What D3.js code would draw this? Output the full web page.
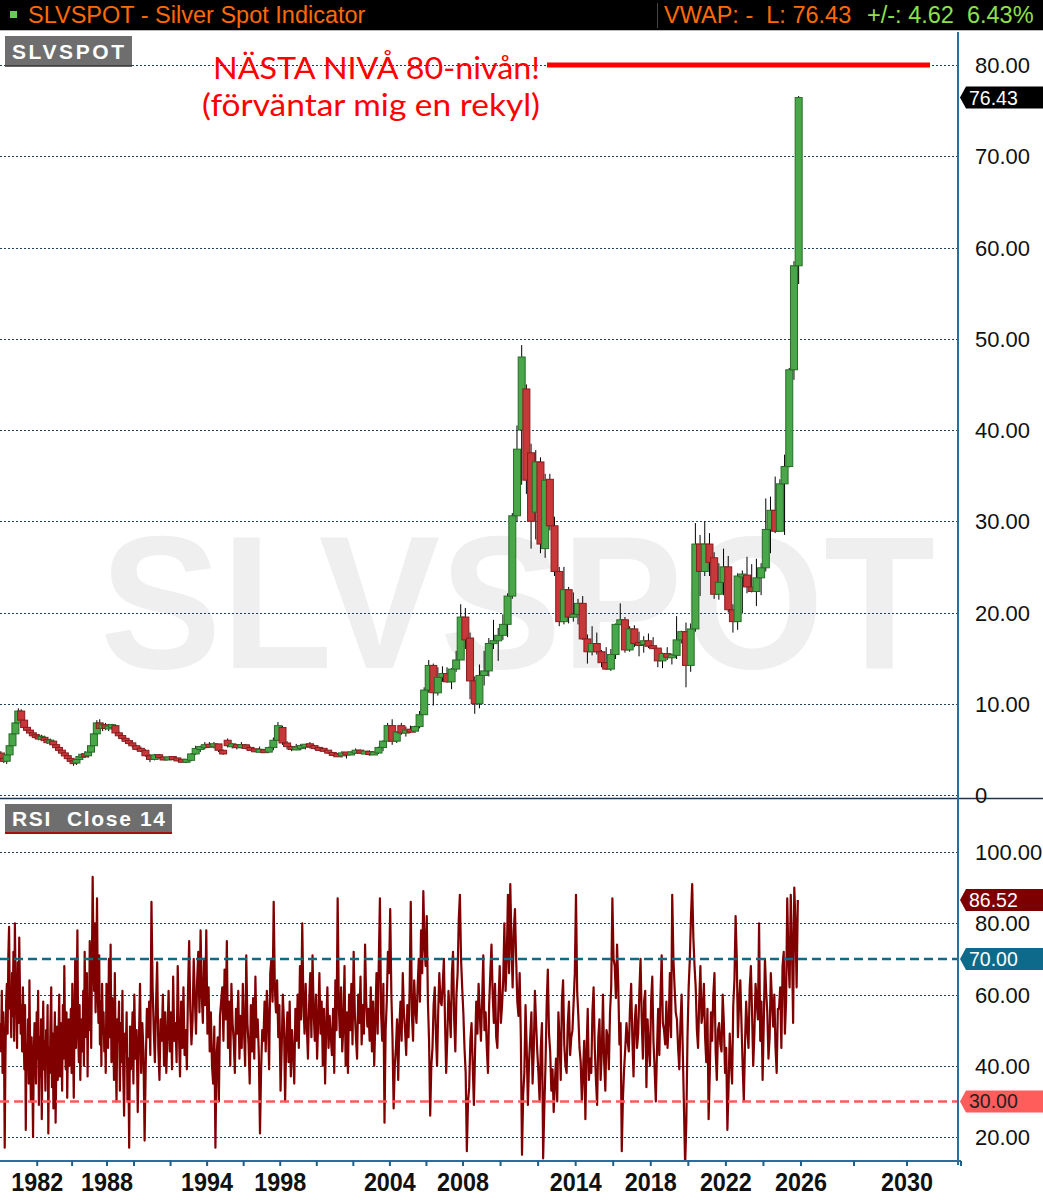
<!DOCTYPE html>
<html><head><meta charset="utf-8">
<script src="https://cdn.jsdelivr.net/npm/d3@7"></script>
<style>
body{margin:0;background:#fff}
svg{display:block}
text{font-family:"Liberation Sans",Arial,sans-serif}
</style>
</head><body>
<svg id="c" width="1043" height="1200"></svg>
<script>
// ---------- DATA (quarterly candles, decimal-year centres from priceStart, step 0.25) ----------
const priceStart = 1978.875;
const open = [4.6,4.0,3.7,4.4,5.4,6.7,7.9,9.2,8.2,7.4, 7.1,6.8,6.5,6.4,6.2,6.3,6.0,5.8,5.9,5.5,
 5.2,4.9,4.6,4.3,4.0,3.7,3.5,3.9,4.2,4.4, 4.3,4.7,5.4,6.7,7.9,7.3,7.7, 7.3,7.5,7.6,6.8,6.5,6.2,5.9,5.7,
 5.4,5.0,4.9,4.3,3.9,4.4,4.1,3.9,4.1,4.0, 3.8,3.7,3.8,4.5,5.1,5.2,5.5,5.3,5.6,4.9,
 6.0,5.4,5.5,5.2,5.5,5.1,5.0,4.8,4.9,4.7, 5.2,6.0,7.4,5.7,5.3,5.0,5.2,5.3,5.5,5.4,
 5.1,5.0,4.9,4.6,4.4,4.3,4.6,4.5,4.6,4.9, 4.6,4.7,4.5,4.6,5.2,5.9,7.6,5.9,7.6,6.8,
 7.1,7.0,7.5,8.8,11.5,14.2,11.2,12.9,13.3,12.4, 13.8,14.8,19.5,17.2,12.5,10.0,13.1,13.6,16.6,16.9,
 17.5,18.7,21.8,30.6,40.0,44.5,37.5,31.0,36.5,27.0, 34.6,29.5,24.5,19.0,22.5,19.5,19.8,21.0,17.1,15.7,
 16.6,15.7,14.5,13.8,15.4,18.7,19.2,15.9,18.2,16.6, 16.5,16.9,16.3,16.1,14.7,15.5,15.1,15.3,17.0,17.9,
 14.2,18.2,27.5,24.5,27.5,26.0,22.0,23.3,25.0,20.3, 19.0,24.0,24.1,22.8,22.3,23.8,24.9,29.1,31.2,28.9,
 34.1,36.0,46.6,58.0];
const high = [4.8,4.3,4.6,5.6,6.9,8.1,9.5,9.4,8.4,7.8, 7.4,7.0,6.8,6.7,6.6,6.5,6.3,6.2,6.0,5.7,
 5.4,5.2,4.8,4.5,4.2,3.9,4.1,4.4,4.6,4.8, 4.9,5.6,6.9,8.2,8.3,7.9,7.9, 7.8,7.8,7.7,7.0,6.7,6.4,6.1,5.9,
 5.5,5.3,5.0,4.5,4.5,4.5,4.2,4.2,4.2,4.0, 3.9,3.9,4.6,5.4,5.4,5.8,5.8,5.8,5.6,5.0,
 6.2,5.7,5.6,5.8,5.6,5.3,5.0,5.3,5.0,5.3, 6.3,8.0,7.6,5.9,5.4,5.6,5.6,5.6,5.8,5.5,
 5.3,5.1,4.9,4.7,4.6,4.8,4.7,4.8,5.1,5.0, 4.8,4.9,4.8,5.3,6.0,7.9,8.3,7.0,7.9,7.5,
 7.6,7.6,9.2,11.8,14.8,14.4,14.0,14.1,14.0,13.9, 15.8,20.9,20.5,17.8,13.0,14.3,15.8,17.2,19.2,18.3,
 19.8,22.1,30.9,40.5,49.3,45.0,38.5,37.8,37.0,35.2, 35.2,30.5,25.0,25.0,22.8,22.2,21.5,21.8,17.6,18.5,
 17.8,15.9,16.2,16.0,18.8,21.0,19.5,18.5,18.6,17.9, 17.4,17.7,17.3,16.1,15.6,16.2,15.5,19.6,18.0,18.9,
 18.8,29.8,28.5,30.0,28.7,26.6,25.4,27.0,26.2,20.9, 24.3,24.6,26.1,25.3,25.9,25.4,32.5,32.7,34.9,34.6,
 37.3,46.8,58.5,76.6];
const low = [3.9,3.5,3.4,4.2,5.2,6.5,7.7,8.0,7.2,6.9, 6.6,6.3,6.2,6.0,5.9,5.8,5.6,5.5,5.3,5.0,
 4.7,4.5,4.1,3.8,3.5,3.2,3.3,3.7,3.9,4.1, 4.1,4.5,5.2,6.5,7.0,7.0,7.1, 7.0,7.2,6.6,6.3,6.0,5.7,5.5,5.2,
 4.9,4.7,4.2,3.6,3.8,3.9,3.8,3.9,3.9,3.7, 3.6,3.5,3.7,4.4,4.7,5.0,5.2,5.1,4.7,4.4,
 5.2,5.1,5.0,5.1,5.0,4.9,4.7,4.7,4.6,4.6, 4.9,5.9,5.5,5.0,4.8,4.9,4.9,5.0,5.1,5.0,
 4.9,4.8,4.5,4.3,4.2,4.1,4.0,4.4,4.5,4.5, 4.5,4.3,4.4,4.5,4.8,5.9,5.5,5.7,6.6,6.4,
 6.8,6.8,7.3,8.8,11.2,9.8,10.9,12.4,12.3,11.6, 13.5,14.8,16.0,10.5,8.9,9.5,12.0,13.0,16.0,14.7,
 17.0,17.3,21.5,30.0,34.0,33.0,27.0,28.0,26.5,26.0, 29.0,24.0,18.5,18.7,18.8,19.0,18.7,17.0,14.4,15.3,
 15.4,14.0,13.7,13.6,14.9,18.6,15.6,15.7,16.2,15.2, 15.6,16.1,16.0,14.0,13.9,14.8,14.3,14.9,16.6,11.8,
 13.5,17.9,21.8,24.0,24.0,21.5,21.4,21.9,20.0,17.8, 18.1,19.9,22.1,22.2,20.7,21.9,24.5,26.5,28.7,28.9,
 28.5,35.9,45.5,56.0];
const close = [4.0,3.7,4.4,5.4,6.7,7.9,9.2,8.2,7.4,7.1, 6.8,6.5,6.4,6.2,6.3,6.0,5.8,5.9,5.5,5.2,
 4.9,4.6,4.3,4.0,3.7,3.5,3.9,4.2,4.4,4.3, 4.7,5.4,6.7,7.9,7.3,7.7,7.3, 7.5,7.6,6.8,6.5,6.2,5.9,5.7,5.4,
 5.0,4.9,4.3,3.9,4.4,4.1,3.9,4.1,4.0,3.8, 3.7,3.8,4.5,5.1,5.2,5.5,5.3,5.6,4.9,4.5,
 5.4,5.5,5.2,5.5,5.1,5.0,4.8,4.9,4.7,5.2, 6.0,7.6,5.7,5.3,5.0,5.2,5.3,5.5,5.4,5.1,
 5.0,4.9,4.6,4.4,4.3,4.6,4.5,4.6,4.9,4.6, 4.7,4.5,4.6,5.2,5.9,7.6,5.9,6.9,6.8,7.1,
 7.0,7.5,8.8,11.5,14.2,11.2,12.9,13.3,12.4,13.8, 14.8,19.5,17.0,12.5,10.0,13.1,13.6,16.6,16.9,17.5,
 18.7,21.8,30.6,37.9,48.0,34.5,30.0,36.5,27.5,34.5, 29.5,24.5,19.0,22.5,19.5,19.8,21.0,17.1,15.7,16.6,
 15.7,14.5,13.8,15.4,18.7,19.2,15.9,18.2,16.6,16.5, 16.9,16.3,16.1,14.7,15.5,15.1,15.3,17.0,17.9,14.2,
 18.2,27.5,24.5,27.5,25.5,22.0,23.3,25.0,20.3,19.0, 24.0,24.1,22.8,22.3,23.8,24.9,29.1,31.2,28.9,34.1,
 36.0,46.6,58.0,76.43];

// RSI(14) values, 16 per year starting rsiStart
const rsiStart = 1978.83;
const rsiPerYear = 16;
const rsi = [
 52,44,61,38,55,47,17,42,58,63,49,71,79,56,60,48,
 66,54,72,47,80,63,58,45,69,52,76,61,49,57,44,62,
 51,39,57,22,46,41,53,35,64,44,30,48,38,20,43,52,
 46,35,55,42,61,29,48,37,53,25,44,58,39,47,33,50,
 41,57,21,45,38,52,62,34,49,28,44,55,24,40,51,36,
 48,60,37,52,44,33,57,42,68,49,39,55,31,46,53,40,
 44,56,38,63,47,31,52,70,45,58,78,50,41,57,36,49,
 53,44,61,40,72,55,48,66,37,59,50,75,62,45,70,93,
 74,61,80,55,68,87,60,52,71,46,58,40,63,49,55,44,
 50,38,63,56,45,70,48,74,41,59,52,36,66,44,30,53,
 47,58,33,52,41,61,38,26,49,44,55,30,42,17,51,39,
 46,55,35,60,42,50,27,47,63,38,52,44,19,40,56,48,
 58,43,86,62,50,41,57,69,45,36,53,47,60,40,55,38,
 49,61,44,55,39,65,47,52,41,68,50,37,58,45,62,43,
 50,39,61,75,56,46,53,70,59,49,64,72,55,78,60,52,
 70,57,78,49,62,44,55,40,35,51,17,43,48,30,54,58,
 62,47,67,53,75,45,58,40,63,52,47,38,56,49,61,42,
 54,45,63,50,40,71,52,46,35,57,44,59,42,65,48,53,
 43,21,39,50,47,58,44,61,53,39,66,70,58,86,62,55,
 64,48,57,33,45,60,52,30,47,55,41,58,37,50,44,35,
 56,47,60,45,68,53,80,58,49,63,51,42,57,66,48,71,
 55,47,60,42,53,66,49,58,40,56,35,51,62,45,54,48,
 43,56,38,64,50,87,57,48,62,44,51,68,40,55,38,60,
 50,63,46,72,55,48,42,60,52,65,46,57,49,74,58,51,
 56,47,62,44,58,40,53,66,49,69,87,55,47,63,24,50,
 58,72,66,84,60,48,28,40,45,53,36,51,58,47,66,55,
 50,43,57,48,61,86,54,47,64,56,52,62,70,58,78,66,
 89,74,68,82,58,47,26,40,45,57,62,49,40,55,66,58,
 57,63,70,52,38,48,61,55,48,66,72,53,44,60,66,81,
 88,70,62,55,45,38,16,30,34,47,52,40,29,44,58,49,
 63,55,47,58,71,50,55,45,38,57,66,74,60,52,63,48,
 45,58,68,52,57,64,80,61,70,88,66,91,75,62,78,84,
 70,58,54,66,48,15,32,38,57,45,29,41,48,55,35,44,
 61,52,44,38,30,45,52,14,28,40,57,67,49,44,33,39,
 27,35,42,30,55,47,36,58,64,46,40,38,52,58,43,48,
 50,58,66,88,61,54,45,41,30,38,47,25,44,56,36,42,
 38,55,62,45,36,29,48,53,36,44,60,41,33,50,48,39,
 55,62,87,70,68,59,74,63,46,52,16,31,39,45,52,47,
 44,56,63,48,37,52,57,45,49,61,70,53,42,58,61,34,
 53,45,40,58,65,47,39,30,44,56,43,60,71,52,50,46,
 58,45,52,66,48,88,70,62,55,53,45,39,52,60,44,28,
 12,24,48,62,70,82,91,76,68,62,50,45,58,68,52,55,
 63,48,41,56,25,38,55,47,60,66,44,36,50,52,46,44,
 60,52,38,45,22,34,49,41,35,57,64,82,70,48,58,64,
 52,40,30,46,58,50,45,62,68,55,40,49,63,58,53,80,
 47,58,36,52,70,61,55,42,48,66,58,51,60,45,38,56,
 56,62,45,68,72,49,58,87,70,62,88,74,52,90,80,62,
 86.52];

const priceTicks = [0,10,20,30,40,50,60,70,80];
const rsiTicks = [20,40,60,80,100];
const rsiLevels = [70,30];
const yearTicks = [1982,1985,1988,1990,1992,1994,1996,1998,2000,2002,2004,2006,2008,2010,2012,2014,2016,2018,2020,2022,2024,2026,2028,2030];
const yearLabels = [1982,1988,1994,1998,2004,2008,2014,2018,2022,2026,2030];
const lastPrice = 76.43, lastRsi = 86.52, nextLevel = 80;

// ---------- LAYOUT ----------
const W = 1043, axisX = 958, priceTop = 32, priceBottom = 798, rsiTop = 800, rsiBottom = 1161;
const svg = d3.select('#c');

// the platform's time axis is bar based (irregular); piecewise linear scale
const x = d3.scaleLinear()
  .domain([1978.8, 1988, 1990, 2008, 2026, 2030, 2032.04])
  .range([0, 107, 134, 463, 801, 907, 961]);
const yP = d3.scaleLinear().domain([0, 80]).range([795, 65]);
const yR = d3.scaleLinear().domain([20, 100]).range([1137, 852]);

const defs = svg.append('defs');
defs.append('clipPath').attr('id','cp').append('rect').attr('x',0).attr('y',priceTop).attr('width',axisX).attr('height',priceBottom-priceTop);
defs.append('clipPath').attr('id','cr').append('rect').attr('x',0).attr('y',rsiTop).attr('width',axisX).attr('height',rsiBottom-rsiTop);

// ---------- HEADER ----------
svg.append('rect').attr('x',0).attr('y',0).attr('width',W).attr('height',30).attr('fill','#000');
svg.append('line').attr('x1',0).attr('x2',W).attr('y1',30.5).attr('y2',30.5).attr('stroke','#bbb');
svg.append('rect').attr('x',10).attr('y',11).attr('width',7).attr('height',7).attr('fill','#5fd14a');
svg.append('text').attr('x',28).attr('y',23).attr('font-size',23.5).attr('fill','#ff6a00').text('SLVSPOT - Silver Spot Indicator');
svg.append('line').attr('x1',657.5).attr('x2',657.5).attr('y1',3).attr('y2',28).attr('stroke','#444');
svg.append('text').attr('x',664).attr('y',23).attr('font-size',23.5).attr('fill','#ff6a00').style('white-space','pre').text('VWAP: -  L: 76.43');
svg.append('text').attr('x',867).attr('y',23).attr('font-size',23.5).attr('fill','#8ee04a').style('white-space','pre').text('+/-: 4.62  6.43%');

// ---------- PRICE PANEL ----------
const gP = svg.append('g').attr('clip-path','url(#cp)');
gP.append('text').attr('x',100).attr('y',668).attr('font-size',190).attr('font-weight','bold')
  .attr('fill','#efefef').attr('textLength',835).attr('lengthAdjust','spacingAndGlyphs').text('SLVSPOT');

gP.selectAll('line.gp').data(priceTicks).join('line').attr('class','gp')
  .attr('x1',0).attr('x2',axisX).attr('y1',d=>Math.round(yP(d))+0.5).attr('y2',d=>Math.round(yP(d))+0.5)
  .attr('stroke','#1f3f5f').attr('stroke-width',1).attr('stroke-dasharray','2,2');

const candles = close.map((c,i)=>({t: priceStart + i*0.25, o: open[i], h: high[i], l: low[i], c}));
gP.selectAll('line.wick').data(candles).join('line').attr('class','wick')
  .attr('x1',d=>x(d.t)).attr('x2',d=>x(d.t)).attr('y1',d=>yP(d.h)).attr('y2',d=>yP(d.l))
  .attr('stroke','#000').attr('stroke-width',1);
const bw = 7;
gP.selectAll('rect.body').data(candles).join('rect').attr('class','body')
  .attr('x',d=>x(d.t)-bw/2).attr('width',bw)
  .attr('y',d=>Math.min(yP(Math.max(d.o,d.c)), (yP(d.o)+yP(d.c))/2-1.5))
  .attr('height',d=>Math.max(3, Math.abs(yP(d.o)-yP(d.c))))
  .attr('fill',d=>d.c>=d.o ? '#49a749' : '#c7383b')
  .attr('stroke',d=>d.c>=d.o ? '#266d26' : '#8a1c1e').attr('stroke-width',1);

// annotation
svg.append('text').attr('x',213).attr('y',79).style('font-family','Lato, "Open Sans", sans-serif').attr('font-size',30)
  .attr('fill','#ff0000').attr('textLength',327).attr('lengthAdjust','spacingAndGlyphs').text('NÄSTA NIVÅ 80-nivån!');
svg.append('text').attr('x',202).attr('y',116).style('font-family','Lato, "Open Sans", sans-serif').attr('font-size',30)
  .attr('fill','#ff0000').attr('textLength',338).attr('lengthAdjust','spacingAndGlyphs').text('(förväntar mig en rekyl)');
svg.append('line').attr('x1',547).attr('x2',930).attr('y1',yP(nextLevel)).attr('y2',yP(nextLevel))
  .attr('stroke','#ff0000').attr('stroke-width',5);

// label box
svg.append('rect').attr('x',5).attr('y',36).attr('width',127).attr('height',30).attr('fill','#6e6e6e');
svg.append('line').attr('x1',5).attr('x2',132).attr('y1',66).attr('y2',66).attr('stroke','#333').attr('stroke-width',1.5);
svg.append('text').attr('x',12).attr('y',59).attr('font-size',21).attr('font-weight','bold').attr('fill','#fff')
  .attr('textLength',112).attr('lengthAdjust','spacing').text('SLVSPOT');

// panel separator
svg.append('line').attr('x1',0).attr('x2',W).attr('y1',priceBottom+0.5).attr('y2',priceBottom+0.5).attr('stroke','#1e3450').attr('stroke-width',1.5);

// ---------- RSI PANEL ----------
const gR = svg.append('g').attr('clip-path','url(#cr)');
gR.selectAll('line.gr').data(rsiTicks).join('line').attr('class','gr')
  .attr('x1',0).attr('x2',axisX).attr('y1',d=>Math.round(yR(d))+0.5).attr('y2',d=>Math.round(yR(d))+0.5)
  .attr('stroke','#1f3f5f').attr('stroke-width',1).attr('stroke-dasharray','2,2');
const rsiPts = rsi.map((v,i)=>({t: rsiStart + i/rsiPerYear, v}));
gR.append('path').datum(rsiPts)
  .attr('d', d3.line().x(d=>x(d.t)).y(d=>yR(d.v)))
  .attr('fill','none').attr('stroke','#800000').attr('stroke-width',2.2).attr('stroke-linejoin','round');
gR.selectAll('line.lvl').data(rsiLevels).join('line').attr('class','lvl')
  .attr('x1',0).attr('x2',axisX).attr('y1',d=>yR(d)).attr('y2',d=>yR(d))
  .attr('stroke',d=>d===70?'#0d6a8b':'#ff5a5a').attr('stroke-width',2.5).attr('stroke-dasharray','9,5');

svg.append('rect').attr('x',5).attr('y',804).attr('width',167).attr('height',29).attr('fill','#6e6e6e');
svg.append('line').attr('x1',5).attr('x2',172).attr('y1',833).attr('y2',833).attr('stroke','#a01010').attr('stroke-width',2);
svg.append('text').attr('x',12).attr('y',826).attr('font-size',21).attr('font-weight','bold').attr('fill','#fff')
  .style('white-space','pre').attr('textLength',153).attr('lengthAdjust','spacing').text('RSI  Close 14');

// ---------- AXES ----------
svg.append('line').attr('x1',axisX).attr('x2',axisX).attr('y1',priceTop).attr('y2',rsiBottom+4).attr('stroke','#2a6f97').attr('stroke-width',2);
svg.append('line').attr('x1',0).attr('x2',961).attr('y1',rsiBottom).attr('y2',rsiBottom).attr('stroke','#2a6f97').attr('stroke-width',2);
svg.selectAll('line.xt').data(yearTicks.concat([2032.04])).join('line').attr('class','xt')
  .attr('x1',d=>x(d)).attr('x2',d=>x(d)).attr('y1',rsiBottom).attr('y2',rsiBottom+5)
  .attr('stroke','#1f5f8a').attr('stroke-width',2);
svg.selectAll('text.xl').data(yearLabels).join('text').attr('class','xl')
  .attr('x',d=>x(d)-26).attr('y',1191).attr('font-size',25).attr('font-weight','bold').attr('fill','#111')
  .attr('textLength',52).attr('lengthAdjust','spacingAndGlyphs').text(d=>d);

svg.selectAll('text.yp').data(priceTicks).join('text').attr('class','yp')
  .attr('x',975).attr('y',d=>yP(d)+8).attr('font-size',22).attr('fill','#111')
  .text(d=>d===0?'0':d3.format('.2f')(d));
svg.selectAll('text.yr').data(rsiTicks).join('text').attr('class','yr')
  .attr('x',975).attr('y',d=>yR(d)+8).attr('font-size',22).attr('fill','#111')
  .text(d=>d3.format('.2f')(d));

// value tags
function tag(cy, fill, txt, col){
  const h = 11;
  svg.append('path').attr('d',`M960,${cy} L966,${cy-h} L${W},${cy-h} L${W},${cy+h} L966,${cy+h} Z`).attr('fill',fill);
  svg.append('text').attr('x',969).attr('y',cy+7).attr('font-size',19.5).attr('fill',col).text(txt);
}
tag(yP(lastPrice), '#000', d3.format('.2f')(lastPrice), '#fff');
tag(yR(lastRsi), '#7d0000', d3.format('.2f')(lastRsi), '#fff');
tag(yR(70), '#0d6a8b', '70.00', '#fff');
tag(yR(30), '#ff5c5c', '30.00', '#222');
</script>
</body></html>
